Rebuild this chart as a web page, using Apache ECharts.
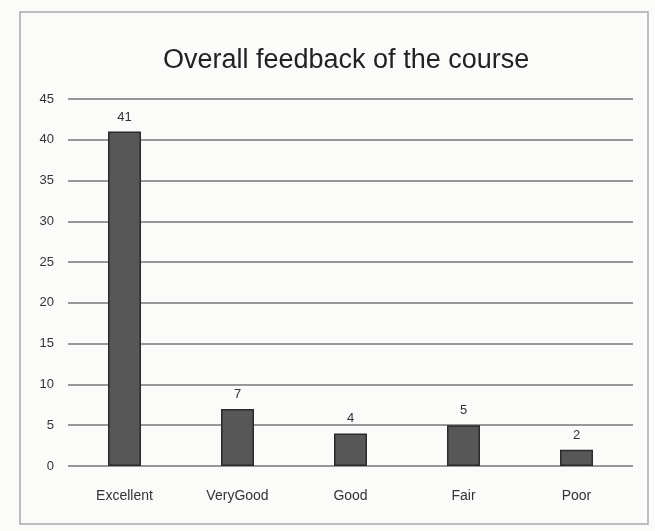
<!DOCTYPE html>
<html><head><meta charset="utf-8">
<script src="https://cdn.jsdelivr.net/npm/echarts@6/dist/echarts.min.js"></script>
<style>html,body{margin:0;padding:0;background:#fbfbf9;}#c{width:655px;height:531px;}</style>
</head><body><div id="c"></div>
<script>
const categories = ['Excellent', 'VeryGood', 'Good', 'Fair', 'Poor'];
const values = [41, 7, 4, 5, 2];
const titleText = 'Overall feedback of the course';

const chart = echarts.init(document.getElementById('c'));
chart.setOption({
  backgroundColor: '#fbfbf9',
  animation: false,
  title: {
    text: titleText, left: 158, top: 42,
    textStyle: {fontFamily: 'Liberation Sans', fontWeight: 'normal', fontSize: 27, color: '#222'}
  },
  graphic: [{type: 'rect', shape: {x: 20, y: 12, width: 628, height: 512}, style: {fill: 'none', stroke: '#aaa', lineWidth: 1.5}}],
  grid: {left: 68, right: 22, top: 99, bottom: 65},
  xAxis: {
    type: 'category', data: categories,
    axisLine: {show: false}, axisTick: {show: false},
    axisLabel: {margin: 23, fontFamily: 'Liberation Sans', fontSize: 14, color: '#333'}
  },
  yAxis: {
    type: 'value', min: 0, max: 45, interval: 5,
    axisLine: {show: false}, axisTick: {show: false},
    axisLabel: {margin: 14, fontFamily: 'Liberation Sans', fontSize: 13, color: '#333'},
    splitLine: {lineStyle: {color: '#777', width: 1.5}}
  },
  series: [{
    type: 'bar', data: values, barWidth: 33,
    itemStyle: {color: '#575757', borderColor: '#2a2a2a', borderWidth: 1.5},
    label: {show: true, position: 'top', distance: 8, fontFamily: 'Liberation Sans', fontSize: 13, color: '#333'}
  }]
});
</script></body></html>
